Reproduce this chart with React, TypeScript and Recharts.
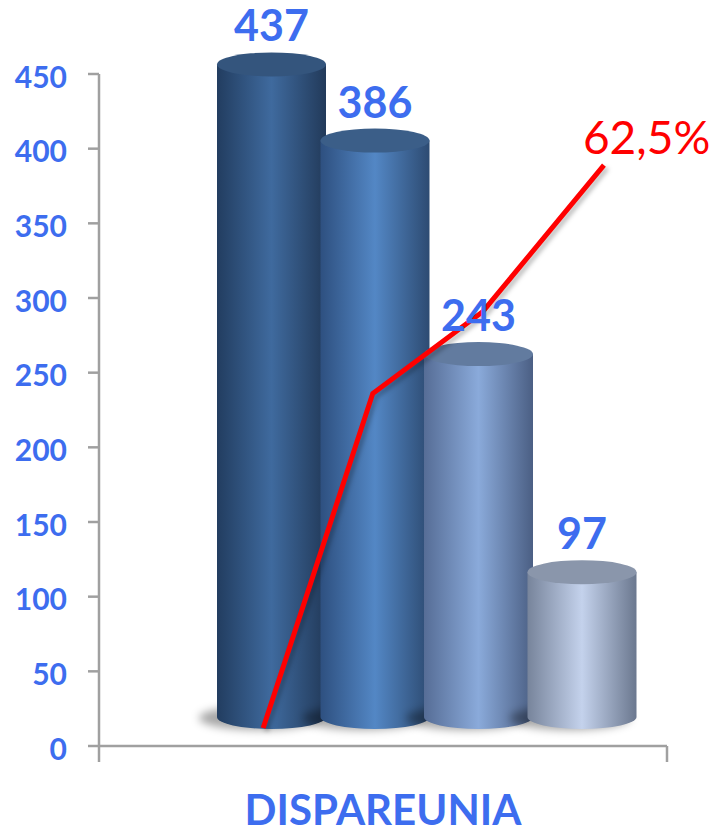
import React from 'react';
import { ComposedChart, Bar, Cell, Line, XAxis, YAxis, LabelList, Label } from 'recharts';

// ---- data ----
const seriesNames = ['S1', 'S2', 'S3', 'S4'];
const barValues = [437, 386, 243, 97];
const yTicks = [0, 50, 100, 150, 200, 250, 300, 350, 400, 450];
const linePositions = [0.289, 0.482, 0.676, 0.889];
const lineValues = [12, 236, 291, 389];
const lineLabels = ['', '', '', '62,5%'];
const axisCategory = 'DISPAREUNIA';

const barData = seriesNames.map((name, i) => ({ name, value: barValues[i] }));
const lineData = linePositions.map((x, i) => ({ x, v: lineValues[i], lbl: lineLabels[i] }));

// ---- styles ----
const BLUE = '#3D6DEF';
const AXIS_GRAY = '#A0A0A0';
const FONT = 'Lato, "Open Sans", sans-serif';
const palette = [
  { left: '#223D60', mid: '#3F6A9E', right: '#223A5A', top: '#34557D' },
  { left: '#2E5080', mid: '#5387C5', right: '#2D4B72', top: '#3B5E88' },
  { left: '#566D96', mid: '#8AAADA', right: '#4B5F84', top: '#627B9F' },
  { left: '#77849B', mid: '#C4D2EC', right: '#6B788F', top: '#8A96AB' },
];

const Cylinder = (props: any) => {
  const { x, y, width, height, index } = props;
  const c = palette[index % palette.length];
  const cx = x + width / 2;
  const rx = 54.5;
  const ry = 12;
  const D = 29;
  const yTop = y - D;
  const yBot = y + height - D;
  const gid = `cylGrad${index}`;
  const fid = `cylBlur${index}`;
  return (
    <g>
      <defs>
        <linearGradient id={gid} x1="0" y1="0" x2="1" y2="0">
          <stop offset="0%" stopColor={c.left} />
          <stop offset="50%" stopColor={c.mid} />
          <stop offset="100%" stopColor={c.right} />
        </linearGradient>
        <filter id={fid} x="-50%" y="-100%" width="200%" height="300%">
          <feGaussianBlur stdDeviation="4" />
        </filter>
      </defs>
      <ellipse cx={cx - 12} cy={yBot + 1} rx={rx + 6} ry={ry} fill="rgba(0,0,0,0.35)" filter={`url(#${fid})`} />
      <path
        d={`M${cx - rx},${yTop} L${cx - rx},${yBot} A${rx},${ry} 0 0 0 ${cx + rx},${yBot} L${cx + rx},${yTop} Z`}
        fill={`url(#${gid})`}
      />
      <ellipse cx={cx} cy={yTop} rx={rx} ry={ry} fill={c.top} />
    </g>
  );
};

const LineLabel = (props: any) => {
  const { x, y, value } = props;
  if (!value) return null;
  return (
    <text x={x - 21} y={y - 11} fill="#FF0000" fontSize={46} fontFamily={FONT} textAnchor="start">
      {value}
    </text>
  );
};

export default function App() {
  return (
    <div style={{ position: 'absolute', left: 0, top: 0, background: '#fff' }}>
      <ComposedChart
        width={723}
        height={834}
        data={barData}
        margin={{ top: 74, right: 56, left: 29, bottom: 0 }}
      >
        <XAxis xAxisId="cat" dataKey="name" type="category" hide height={0} padding={{ left: 121, right: 33 }} />
        <XAxis
          xAxisId="num"
          dataKey="x"
          type="number"
          domain={[0, 1]}
          ticks={[0, 1]}
          tickFormatter={() => ''}
          height={88}
          axisLine={{ stroke: AXIS_GRAY, strokeWidth: 2.5 }}
          tickLine={{ stroke: AXIS_GRAY, strokeWidth: 2.5 }}
          tickSize={16}
        >
          <Label
            value={axisCategory}
            position="insideBottom"
            offset={9}
            fill={BLUE}
            fontSize={42}
            fontWeight="bold"
            fontFamily={FONT}
          />
        </XAxis>
        <YAxis
          domain={[0, 450]}
          ticks={yTicks}
          width={70}
          axisLine={{ stroke: AXIS_GRAY, strokeWidth: 2.5 }}
          tickLine={{ stroke: AXIS_GRAY, strokeWidth: 2.5 }}
          tickSize={11}
          tickMargin={21}
          tick={{ fill: BLUE, fontSize: 30, fontWeight: 'bold', fontFamily: FONT, dy: 3 }}
        />
        <Bar xAxisId="cat" dataKey="value" barSize={103} shape={<Cylinder />} isAnimationActive={false}>
          {barData.map((d) => (
            <Cell key={d.name} />
          ))}
          <LabelList
            dataKey="value"
            position="top"
            offset={52}
            fill={BLUE}
            fontSize={43}
            fontWeight="bold"
            fontFamily={FONT}
          />
        </Bar>
        <Line
          xAxisId="num"
          data={lineData}
          dataKey="v"
          stroke="#FF0000"
          strokeWidth={5}
          dot={false}
          activeDot={false}
          isAnimationActive={false}
          style={{ filter: 'drop-shadow(3px 3px 2px rgba(0,0,0,0.25))' }}
        >
          <LabelList dataKey="lbl" content={<LineLabel />} />
        </Line>
      </ComposedChart>
    </div>
  );
}
